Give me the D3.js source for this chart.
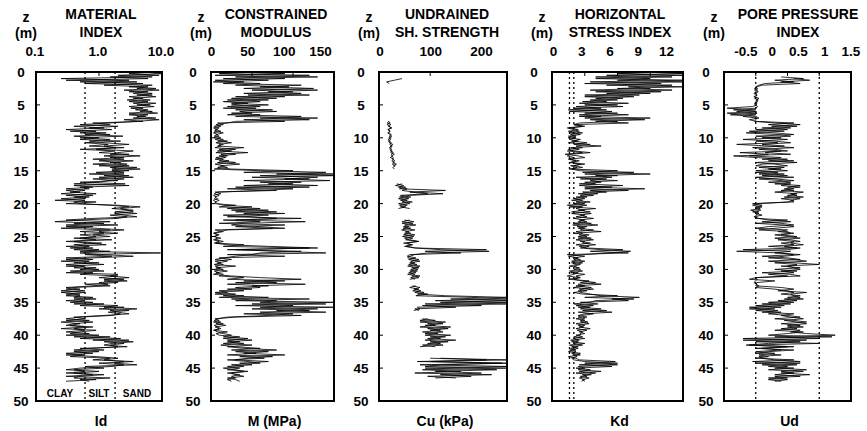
<!DOCTYPE html>
<html lang="en">
  <head>
    <meta charset="UTF-8" />
    <title>DMT profiles</title>
    <script src="https://cdnjs.cloudflare.com/ajax/libs/d3/7.8.5/d3.min.js"></script>
    <style>
      body {
        margin: 0;
        background: #fff;
      }
      text {
        font-family: "Liberation Sans", Arial, Helvetica, sans-serif;
        font-weight: bold;
        fill: #000;
      }
      .trace {
        fill: none;
        stroke: #000;
        stroke-width: 0.85px;
        stroke-opacity: 0.95;
      }
      .frame {
        fill: none;
        stroke: #000;
        stroke-width: 2px;
      }
      .ref {
        stroke: #000;
        stroke-width: 1.3px;
        stroke-dasharray: 2, 3;
      }
    </style>
  </head>
  <body>
    <div id="chart"></div>

    <script>
      const width = 867;
      const height = 431;
      const _ = null;

      // depth grid (m), one reading every 0.25 m down to 47 m
      const depth = d3.range(0, 47.001, 0.25);
      const zTicks = [0, 5, 10, 15, 20, 25, 30, 35, 40, 45, 50];

      // Material index Id (two soundings)
      const idA = [
        8,3,9,1.5,6,0.3,4,0.6,7,3,8,2.5,6,3.5,7,3,5,2.8,6,3.5,
        6.5,3,5,3.8,7,3,6,4,8,2.5,5,0.8,1.5,0.4,1.2,0.3,0.9,0.5,1.5,0.4,
        1.0,0.5,2.2,0.6,1.4,0.7,2.5,0.5,1.8,1.0,3.0,1.2,2.5,0.8,3.5,1.5,2.8,1.0,4.0,1.6,
        3.0,0.9,2.5,1.2,3.5,0.8,2.0,0.5,2.6,0.4,0.8,0.3,0.6,0.35,0.9,0.3,0.7,0.25,0.6,0.4,
        0.5,1.5,3.0,1.6,3.5,1.8,4.0,1.5,2.8,2.0,0.5,0.2,1.2,0.3,0.8,0.25,1.5,0.5,2.0,0.8,
        1.5,0.4,0.9,0.3,1.1,0.4,0.7,0.35,1.0,0.5,9.5,0.6,1.6,0.3,0.8,0.25,1.0,0.3,0.6,0.4,
        1.0,0.35,0.8,0.5,2.0,1.0,2.5,1.2,2.0,0.6,1.5,0.4,0.3,0.6,0.25,0.5,0.3,0.8,0.4,0.6,
        0.35,1.2,0.5,2.5,1.0,3.0,1.4,2.2,1.6,0.5,0.3,0.7,0.25,0.5,0.35,0.8,0.4,0.6,0.3,0.7,
        0.3,1.5,0.5,3.0,1.2,2.5,1.5,2.0,0.8,0.4,1.0,0.3,0.6,0.35,1.5,0.8,3.5,1.0,2.5,1.6,
        0.5,0.3,1.0,0.4,0.8,0.3,1.5,0.5,0.7
      ];
      const idB = [
        5,10,2,7,0.25,3,0.5,5,1.2,6,4,9,3,7,4,8,3.5,6.5,3,8,
        4,7.5,3.2,6,4.5,8.5,3,5.5,3.5,9,4,1.5,0.5,2,0.7,1.6,0.35,1.3,0.6,2.4,
        0.5,1.5,0.7,1.2,3,1.2,1.8,0.9,3.5,2.0,1.5,4.5,1.5,2.5,1.0,2.2,0.8,3.0,1.5,4.5,
        1.6,2.5,0.7,3.0,1.0,2.5,1.4,1.0,0.4,3.0,0.5,0.7,0.3,0.5,0.25,0.8,0.4,0.6,0.2,0.9,
        0.3,2.0,4.5,2.2,2.8,3.5,1.8,2.5,4.0,0.8,0.3,1.5,0.4,2.0,0.3,0.9,2.5,1.0,1.2,0.5,
        0.9,0.5,1.6,0.4,0.6,1.3,0.3,0.8,0.4,1.5,0.5,1.2,3.5,0.8,0.3,0.7,0.4,1.2,0.3,0.9,
        0.5,1.2,0.3,2.0,1.5,3.0,1.2,2.8,1.0,1.4,0.8,0.3,0.5,0.25,0.6,0.3,0.5,0.4,0.9,0.3,
        0.8,0.4,2.0,1.2,4.0,1.5,2.0,3.0,1.2,0.4,0.6,0.3,0.8,0.4,0.3,0.6,0.25,0.9,0.5,0.35,
        1.0,0.4,2.2,0.8,3.5,1.6,1.2,2.8,0.5,1.2,0.4,0.8,0.3,0.9,2.0,1.2,2.5,1.8,4.0,0.6,
        1.2,0.4,0.6,0.3,1.2,0.5,0.4,0.9,0.3
      ];

      // Constrained modulus M (MPa)
      const mA = [
        60,10,120,30,90,5,40,15,110,60,125,50,100,40,120,30,80,20,60,25,
        70,20,55,30,80,25,60,30,130,40,90,8,15,4,10,5,12,3,8,4,
        12,5,20,6,15,8,40,10,25,6,30,10,18,5,22,8,35,12,20,4,
        60,140,80,150,50,120,40,110,70,130,30,100,60,8,4,10,5,8,3,6,
        4,30,10,60,25,80,40,70,20,110,15,60,10,90,30,75,5,15,4,10,
        3,12,5,15,6,40,15,120,30,80,140,20,90,10,25,5,12,4,30,6,
        15,4,10,3,25,60,110,40,80,20,70,30,50,10,20,5,40,10,120,30,
        150,50,100,60,130,80,140,40,110,30,5,10,3,15,4,8,12,3,20,6,
        10,35,15,50,20,40,12,30,60,25,70,40,90,35,65,20,45,60,25,40,
        15,30,40,20,35,25,30,20,25
      ];
      const mB = [
        20,90,5,130,15,70,3,60,30,95,40,130,70,110,45,90,25,70,15,45,
        25,60,15,75,35,50,20,110,60,120,30,20,6,12,3,8,4,15,6,10,
        4,15,8,25,10,12,5,30,8,45,12,20,6,15,10,30,5,15,8,25,
        100,40,150,60,130,90,145,60,100,40,120,20,80,5,12,3,6,4,10,5,
        8,15,50,20,70,30,90,15,50,80,30,115,40,25,60,90,20,10,3,8,
        5,8,3,10,4,20,70,130,20,110,60,50,30,15,5,20,8,15,5,12,
        5,20,6,15,10,40,20,90,30,115,50,60,20,40,5,30,15,70,25,80,
        60,140,30,150,50,120,60,100,70,20,8,4,12,6,18,5,10,4,8,15,
        25,15,45,20,35,15,50,20,40,80,30,55,20,75,45,30,70,35,50,20,
        35,20,45,25,30,40,20,30,35
      ];

      // Undrained shear strength Cu (kPa), only in clay layers
      const cuA = [
        _,_,_,_,45,30,15,20,_,_,_,_,_,_,_,_,_,_,_,_,
        _,_,_,_,_,_,_,_,_,_,18,22,16,20,24,18,22,17,21,25,
        19,23,18,24,21,26,20,25,22,28,24,27,22,29,25,30,26,32,27,30,
        _,_,_,_,_,_,_,_,35,48,38,55,45,70,125,60,40,58,42,65,
        38,55,42,60,_,_,_,_,_,_,50,68,45,72,48,62,44,58,50,70,
        46,66,52,75,55,62,50,70,210,90,160,60,55,72,58,80,60,74,56,78,
        62,75,58,70,64,78,60,_,_,_,65,80,68,82,70,95,72,180,250,110,
        250,90,200,75,80,68,_,_,_,_,85,110,80,125,90,140,95,120,85,115,
        90,130,95,150,100,120,85,110,_,_,_,_,_,_,120,250,100,240,80,250,
        90,230,110,200,120,180,110,_,_
      ];
      const cuB = [
        _,_,_,_,_,_,_,_,_,_,_,_,_,_,_,_,_,_,_,_,
        _,_,_,_,_,_,_,_,_,_,20,16,23,18,25,17,21,19,24,20,
        24,18,22,20,27,22,24,21,26,23,30,24,28,26,31,27,34,28,_,_,
        _,_,_,_,_,_,_,_,45,32,52,40,130,60,95,42,62,38,55,45,
        60,40,52,38,_,_,_,_,_,_,60,45,66,50,58,47,70,52,62,48,
        68,50,60,78,48,66,54,72,120,215,95,70,60,56,78,62,70,58,80,64,
        76,60,72,56,80,62,70,_,_,_,72,60,78,66,88,75,130,250,140,250,
        120,250,85,150,70,78,_,_,_,_,95,80,130,95,110,80,135,100,125,90,
        140,100,120,90,135,95,125,80,_,_,_,_,_,_,100,210,75,250,120,90,
        250,85,160,70,220,95,150,_,_
      ];

      // Horizontal stress index Kd
      const kdA = [
        8,12,5,11,4,12,3.5,10,5,12,6,11,4,9,3,7.5,4,6,2.8,7,
        3,6.5,2,5,1.6,6,2.5,4.5,3,8.5,4,7,2,3,1.6,2.4,1.5,2.8,1.7,2.2,
        1.5,2.6,1.8,3.2,2.0,4.5,1.7,2.5,1.4,2.8,1.2,2.4,3.0,1.6,2.5,1.8,3.0,1.7,2.3,1.8,
        2.5,7.5,3,6,2.2,5,3.5,4.5,2.5,6.5,3,8.5,3.5,5,2.4,3.8,2.2,3.0,1.8,3.5,
        2.0,3.2,1.6,4.0,2.4,3.5,1.8,3.0,2.2,3.8,2.5,3.2,2.0,4.2,2.3,3.0,2.6,4.5,2.0,3.4,
        2.4,3.6,2.2,3.0,2.8,4.0,2.5,3.2,6.5,3.5,7.0,1.4,3.0,2.0,2.6,1.8,2.8,2.2,1.6,2.5,
        2.0,2.8,1.7,3.0,2.2,2.6,1.5,3.4,2.6,4.5,2.2,3.6,2.5,3.2,2.0,2.8,6.0,3.0,7.5,4.0,
        3.5,2.0,3.8,2.4,4.5,2.8,5.5,3.0,2.4,3.2,2.2,3.0,2.6,3.4,2.4,2.9,2.2,3.2,2.5,3.0,
        2.2,2.8,2.0,2.5,1.8,3.0,1.6,2.4,1.7,2.2,1.5,2.6,1.9,2.3,1.8,2.0,3.0,6.0,2.5,5.5,
        2.2,3.5,2.5,4.0,2.8,3.2,2.5,3.0,2.7
      ];
      const kdB = [
        11,6,12,4,9,6,12,3,11,7,9,3.5,10,5,8,3,6.5,3.5,5,2.5,
        6,2.2,4.5,1.5,5.5,3,7,2.5,9,3.5,6,2.5,2.0,2.8,1.4,2.0,2.5,1.6,2.6,1.5,
        2.2,1.6,2.4,1.5,3.5,2.2,2.8,1.5,2.0,3.5,1.7,1.4,2.0,1.5,2.2,1.6,2.6,2.0,2.8,1.6,
        6,2.8,9,4,5.5,2.6,6,3,4,2.5,5.5,3,7,2.8,4.2,2.6,3.2,2.0,2.8,2.2,
        3.0,1.4,2.8,2.2,3.0,1.8,3.6,2.6,3.2,2.0,3.0,2.4,3.6,1.9,3.2,2.4,3.8,2.2,2.8,2.5,
        3.2,2.4,3.8,2.6,3.5,2.2,3.4,2.6,4.5,7.2,5,3.0,1.5,2.4,2.0,3.0,1.8,2.6,2.0,2.4,
        2.6,1.6,2.4,2.0,1.4,2.5,2.0,2.8,4.0,2.4,3.0,2.0,3.8,2.4,2.6,3.5,4.5,8.0,5.5,7,
        2.6,4.2,2.2,3.5,2.6,5.0,2.4,3.8,2.8,2.4,3.0,2.6,3.3,2.2,3.0,2.5,3.5,2.3,2.8,2.6,
        2.6,2.0,3.0,1.7,2.4,2.0,2.8,1.8,2.4,1.6,2.2,1.8,2.6,1.5,2.2,2.5,5.8,3.0,6.0,2.4,
        3.0,2.4,4.5,2.2,3.6,2.6,3.4,2.8,3.0
      ];

      // Pore pressure index Ud
      const udA = [
        _,_,_,0.4,0.75,0.3,0.6,0.15,0.05,0.0,0.03,-0.02,0.04,0.0,0.02,-0.03,0.05,0.0,0.03,-0.02,
        0.02,-0.05,-0.45,0.0,-0.3,0.02,-0.4,0.0,0.05,-0.1,0.0,0.6,0.2,0.65,0.1,0.5,-0.1,0.3,0.6,0.0,
        0.4,-0.2,0.3,0.55,0.1,0.45,-0.05,0.3,0.5,-0.25,0.2,-0.1,0.4,0.1,0.6,0.0,0.3,0.5,0.05,0.4,
        0.0,0.35,0.05,0.5,0.0,0.3,0.6,0.2,0.55,0.4,0.7,0.45,0.6,0.3,0.65,0.5,0.75,0.4,0.6,0.5,
        0.05,-0.05,0.1,0.0,0.08,-0.05,0.05,0.0,0.02,0.0,0.5,0.1,0.4,0.6,0.2,0.0,0.5,0.35,0.6,0.4,
        0.65,0.3,0.55,0.7,0.4,0.6,0.2,0.7,0.5,-0.3,0.4,0.6,0.1,0.5,0.7,0.2,0.6,1.0,0.4,0.7,
        0.3,0.65,0.1,0.55,0.7,0.0,-0.1,0.3,0.02,0.0,0.05,0.0,0.3,0.5,0.6,0.4,0.7,0.5,0.75,0.35,
        0.6,0.1,0.45,-0.1,0.3,0.0,0.4,0.2,0.5,0.7,0.3,0.6,0.8,0.4,0.7,0.5,0.65,0.3,0.75,0.5,
        0.2,1.2,-0.2,0.8,0.0,1.0,-0.1,0.6,0.1,0.4,0.0,0.3,0.05,0.2,0.0,0.6,-0.05,0.7,0.1,0.5,
        0.3,0.8,0.4,0.6,0.3,0.7,0.2,0.5,0.3
      ];
      const udB = [
        _,_,_,_,0.6,0.85,0.4,0.7,0.1,0.02,-0.02,0.03,0.0,-0.03,0.02,0.0,-0.02,0.04,0.0,0.02,
        -0.02,0.03,0.0,-0.35,0.01,-0.45,0.0,-0.2,0.02,0.0,-0.02,0.3,0.7,0.25,0.55,0.0,0.45,-0.15,0.35,0.55,
        0.1,0.5,0.0,0.35,-0.3,0.2,0.6,0.05,0.4,0.15,0.55,-0.35,0.0,0.5,0.2,0.65,0.1,0.0,0.45,0.2,
        0.5,0.0,0.45,0.1,0.6,0.05,0.4,0.55,0.3,0.7,0.5,0.6,0.4,0.75,0.55,0.65,0.45,0.7,0.55,0.6,
        -0.05,0.1,0.0,0.07,-0.08,0.05,0.0,0.1,-0.03,0.05,0.2,0.55,0.0,0.45,0.6,0.3,0.05,0.5,0.55,0.3,
        0.5,0.7,0.35,0.6,0.55,0.75,0.45,0.65,-0.2,0.55,0.3,0.7,0.45,0.2,0.6,0.8,0.3,0.65,0.5,0.6,
        0.7,0.4,0.6,0.2,0.5,0.0,0.02,0.0,-0.03,0.02,0.0,0.4,0.6,0.35,0.8,0.55,0.6,0.7,0.45,0.65,
        0.2,0.55,0.0,0.4,-0.1,0.35,0.1,0.6,0.4,0.55,0.75,0.45,0.65,0.8,0.5,0.75,0.4,0.7,0.55,0.8,
        1.25,0.3,1.0,-0.2,0.7,0.2,-0.15,0.5,0.0,0.6,0.2,0.0,0.4,0.05,0.1,0.3,0.7,0.0,0.65,0.2,
        0.6,0.2,0.75,0.4,0.85,0.3,0.5,0.2,0.4
      ];

      // tick values, labels and reference lines
      const idTicks = [0.1, 1, 10];
      const idTickLabels = ["0.1", "1.0", "10.0"];
      const idRefs = [0.6, 1.8];
      const soilLabels = ["CLAY", "SILT", "SAND"];
      const mTicks = [0, 50, 100, 150];
      const cuTicks = [0, 100, 200];
      const kdTicks = [0, 3, 6, 9, 12];
      const kdRefs = [1.6, 2.0];
      const udTicks = [-0.5, 0, 0.5, 1, 1.5];
      const udTickLabels = ["-0.5", "0", "0.5", "1", "1.5"];
      const udRefs = [0, 1];

      // layout (pixels)
      const plotTop = 72;
      const plotBottom = 401;
      const panelLeft = [36, 211, 379, 552, 724];
      const panelRight = [162, 334, 507, 683, 851];
      const titleX = [101, 276, 447, 620, 798];
      const labelRange = [
        [35, 161],
        [211.5, 320.5],
        [380, 507],
        [553.5, 666.5],
        [746, 851],
      ];
      const soilLabelX = [60, 99, 137];

      const panels = [
        {
          title: ["MATERIAL", "INDEX"],
          xlabel: "Id",
          scale: d3.scaleLog().domain([0.1, 10]),
          labelScale: d3.scaleLog().domain([0.1, 10]),
          ticks: idTicks,
          tickLabels: idTickLabels,
          refs: idRefs,
          series: [idA, idB],
        },
        {
          title: ["CONSTRAINED", "MODULUS"],
          xlabel: "M (MPa)",
          scale: d3.scaleLinear().domain([0, 150]),
          labelScale: d3.scaleLinear().domain([0, 150]),
          ticks: mTicks,
          tickLabels: mTicks.map(String),
          refs: [],
          series: [mA, mB],
        },
        {
          title: ["UNDRAINED", "SH. STRENGTH"],
          xlabel: "Cu (kPa)",
          scale: d3.scaleLinear().domain([0, 250]),
          labelScale: d3.scaleLinear().domain([0, 250]),
          ticks: cuTicks,
          tickLabels: cuTicks.map(String),
          refs: [],
          series: [cuA, cuB],
        },
        {
          title: ["HORIZONTAL", "STRESS INDEX"],
          xlabel: "Kd",
          scale: d3.scaleLinear().domain([0, 12]),
          labelScale: d3.scaleLinear().domain([0, 12]),
          ticks: kdTicks,
          tickLabels: kdTicks.map(String),
          refs: kdRefs,
          series: [kdA, kdB],
        },
        {
          title: ["PORE PRESSURE", "INDEX"],
          xlabel: "Ud",
          scale: d3.scaleLinear().domain([-0.5, 1.5]),
          labelScale: d3.scaleLinear().domain([-0.5, 1.5]),
          ticks: udTicks,
          tickLabels: udTickLabels,
          refs: udRefs,
          series: [udA, udB],
        },
      ];

      const svg = d3
        .select("#chart")
        .append("svg")
        .attr("width", width)
        .attr("height", height);

      const y = d3.scaleLinear().domain([0, 50]).range([plotTop, plotBottom]);

      panels.forEach((p, i) => {
        const x0 = panelLeft[i];
        const x1 = panelRight[i];
        const x = p.scale.range([x0, x1]);
        const xl = p.labelScale.range(labelRange[i]);
        const g = svg.append("g");

        // clip so spikes stop at the frame
        svg
          .append("clipPath")
          .attr("id", "clip" + i)
          .append("rect")
          .attr("x", x0)
          .attr("y", plotTop)
          .attr("width", x1 - x0)
          .attr("height", plotBottom - plotTop);

        // headers
        g.append("text")
          .attr("x", titleX[i])
          .attr("y", 19)
          .attr("text-anchor", "middle")
          .style("font-size", "14px")
          .text(p.title[0]);
        g.append("text")
          .attr("x", titleX[i])
          .attr("y", 37)
          .attr("text-anchor", "middle")
          .style("font-size", "14px")
          .text(p.title[1]);
        g.append("text")
          .attr("x", x0 - 10)
          .attr("y", 22)
          .attr("text-anchor", "middle")
          .style("font-size", "14px")
          .text("z");
        g.append("text")
          .attr("x", x0 - 10)
          .attr("y", 38)
          .attr("text-anchor", "middle")
          .style("font-size", "14px")
          .text("(m)");

        // top tick labels and inward ticks
        g.selectAll(".xl")
          .data(p.ticks)
          .enter()
          .append("text")
          .attr("x", (d) => xl(d))
          .attr("y", 56)
          .attr("text-anchor", "middle")
          .style("font-size", "13.5px")
          .text((d, k) => p.tickLabels[k]);
        g.selectAll(".xt")
          .data(p.ticks.slice(1, -1))
          .enter()
          .append("line")
          .attr("x1", (d) => x(d))
          .attr("x2", (d) => x(d))
          .attr("y1", plotTop)
          .attr("y2", plotTop + 4)
          .attr("stroke", "#000");

        // depth labels and inward ticks
        g.selectAll(".zl")
          .data(zTicks)
          .enter()
          .append("text")
          .attr("x", x0 - (i === 0 ? 15 : 18))
          .attr("y", (d) => y(d) + 5)
          .attr("text-anchor", "middle")
          .style("font-size", "13.5px")
          .text((d) => d);
        g.selectAll(".zt")
          .data(zTicks.slice(1, -1))
          .enter()
          .append("line")
          .attr("x1", x0)
          .attr("x2", x0 + 4)
          .attr("y1", (d) => y(d))
          .attr("y2", (d) => y(d))
          .attr("stroke", "#000");

        // reference lines
        g.selectAll(".ref")
          .data(p.refs)
          .enter()
          .append("line")
          .attr("class", "ref")
          .attr("x1", (d) => x(d))
          .attr("x2", (d) => x(d))
          .attr("y1", plotTop)
          .attr("y2", plotBottom);

        // traces
        const line = d3
          .line()
          .defined((d) => d != null)
          .x((d) => x(d))
          .y((d, k) => y(depth[k]));
        g.append("g")
          .attr("clip-path", `url(#clip${i})`)
          .selectAll("path")
          .data(p.series)
          .enter()
          .append("path")
          .attr("class", "trace")
          .attr("d", line);

        // frame
        g.append("rect")
          .attr("class", "frame")
          .attr("x", x0)
          .attr("y", plotTop)
          .attr("width", x1 - x0)
          .attr("height", plotBottom - plotTop);

        // bottom label
        g.append("text")
          .attr("x", (x0 + x1) / 2 + 2)
          .attr("y", 426)
          .attr("text-anchor", "middle")
          .style("font-size", "14px")
          .text(p.xlabel);
      });

      // soil classes inside the first panel
      svg
        .selectAll(".soil")
        .data(soilLabels)
        .enter()
        .append("text")
        .attr("x", (d, k) => soilLabelX[k])
        .attr("y", 397)
        .attr("text-anchor", "middle")
        .style("font-size", "10px")
        .text((d) => d);
    </script>
  </body>
</html>
